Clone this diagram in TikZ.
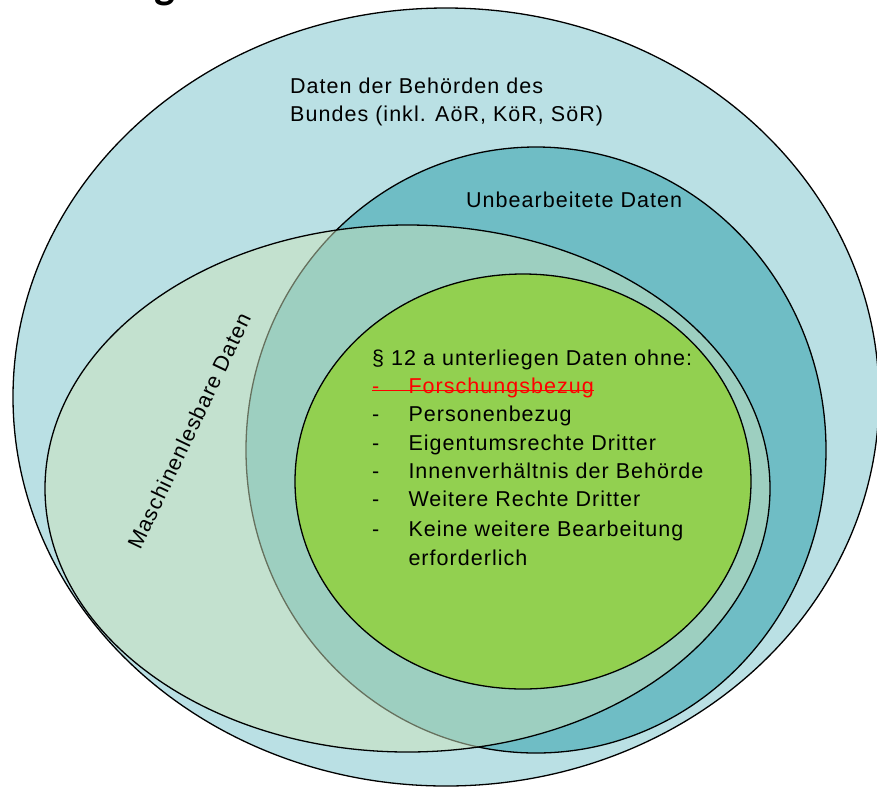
\documentclass[tikz,border=0pt]{standalone}
\usepackage{fontspec}
\setmainfont{Liberation Sans}[LetterSpace=4.8]
\newfontfamily\titlefont{Carlito}
\definecolor{outerblue}{HTML}{BAE0E4}
\definecolor{tealc}{HTML}{6FBDC5}
\definecolor{mlgreen}{HTML}{CCE2BC}
\definecolor{kgreen}{HTML}{92D050}
\begin{document}
\begin{tikzpicture}[x=1pt,y=-1pt,
  ring/.style={draw=black, line width=1.3pt},
  lbl/.style={inner sep=0pt, anchor=base west, font=\fontsize{21.5}{24}\selectfont},
]
\useasboundingbox (0,0) rectangle (877,788);
\fill[white] (0,0) rectangle (877,788);
% title fragment
\node[inner sep=0pt, anchor=base, font=\titlefont\bfseries\fontsize{44}{48}\selectfont] (title) at (165,-2) {g};
% ellipses
\filldraw[ring, fill=outerblue] (446,397) ellipse [x radius=433pt, y radius=389pt];
\filldraw[ring, fill=tealc] (536,450) ellipse [x radius=290pt, y radius=303pt];
\fill[mlgreen, fill opacity=0.5] (407.5,488.5) ellipse [x radius=362.5pt, y radius=263.5pt];
\draw[ring] (407.5,488.5) ellipse [x radius=362.5pt, y radius=263.5pt];
\filldraw[ring, fill=kgreen] (523,481.5) ellipse [x radius=228pt, y radius=207.5pt];
% labels
\node[lbl] (bund1) at (290,93.3) {Daten der Behörden des};
\node[lbl] (bund2) at (290,121.7) {Bundes (inkl. AöR, KöR, SöR)};
\node[lbl] (unb) at (466,207.7) {Unbearbeitete Daten};
\node[inner sep=0pt, rotate=64.5, font=\fontsize{21.5}{24}\selectfont] (masch) at (189,431) {Maschinenlesbare Daten};
% list
\node[lbl] (head) at (372,365) {§ 12 a unterliegen Daten ohne:};
\node[lbl, text=red] (d1) at (372,393.3) {-};
\node[lbl, text=red] (forsch) at (408.3,393.3) {Forschungsbezug};
\draw[red, line width=1.4pt] (d1.mid west) -- (forsch.mid east);
\node[lbl] (d2) at (372,421.7) {-};
\node[lbl] (pers) at (408.3,421.7) {Personenbezug};
\node[lbl] (d3) at (372,450) {-};
\node[lbl] (eig) at (408.3,450) {Eigentumsrechte Dritter};
\node[lbl] (d4) at (372,478.3) {-};
\node[lbl] (inn) at (408.3,478.3) {Innenverhältnis der Behörde};
\node[lbl] (d5) at (372,506.7) {-};
\node[lbl] (weit) at (408.3,506.7) {Weitere Rechte Dritter};
\node[lbl] (d6) at (372,536.7) {-};
\node[lbl] (keine) at (408.3,536.7) {Keine weitere Bearbeitung};
\node[lbl] (erf) at (408.3,565) {erforderlich};
\end{tikzpicture}
\end{document}
